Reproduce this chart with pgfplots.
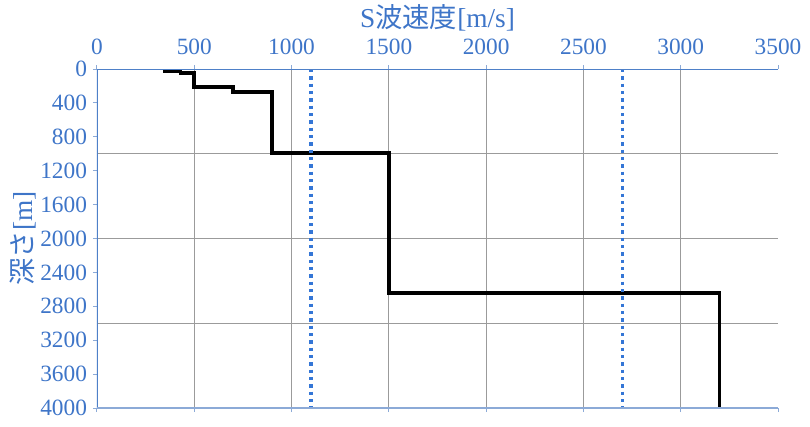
\documentclass[border=0pt]{standalone}
\usepackage{fontspec}
\setmainfont{Liberation Serif}
\newfontfamily\cjk{Noto Sans CJK JP}
\usepackage{pgfplots}
\pgfplotsset{compat=1.18}

\definecolor{txtblue}{RGB}{62,117,200}
\definecolor{axblue}{RGB}{78,128,200}
\definecolor{lightblue}{RGB}{140,170,215}
\definecolor{dotblue}{RGB}{52,118,214}
\definecolor{gridgray}{RGB}{155,155,155}

\begin{document}
\begin{tikzpicture}
% 1px = 0.75pt; plot box 681x339 px at (97,69) in a 810x426 picture
\useasboundingbox (-72.75pt,-13.5pt) rectangle (534.75pt,306pt);
\begin{axis}[
    scale only axis,
    width=510.75pt,
    height=254.25pt,
    xmin=0, xmax=3500,
    ymin=0, ymax=4000,
    y dir=reverse,
    xtick={0,500,...,3500},
    ytick={0,400,...,4000},
    xtick pos=both,
    ytick pos=left,
    xticklabel pos=right,
    tick align=outside,
    major tick length=3pt,
    every tick/.style={color=lightblue, line width=0.75pt},
    extra x ticks={500,1000,...,3000},
    extra x tick labels={},
    extra x tick style={grid=major, major tick length=0pt},
    extra y ticks={1000,2000,3000},
    extra y tick labels={},
    extra y tick style={grid=major, major tick length=0pt},
    major grid style={gridgray, line width=0.75pt},
    axis line style={draw=none},
    /pgf/number format/assume math mode=true,
    /pgf/number format/1000 sep={},
    ticklabel style={font=\fontsize{17.5}{20}\selectfont, text=txtblue},
    xticklabel style={yshift=4pt},
    yticklabel style={xshift=-1pt},
    every axis x label/.style={at={(axis description cs:0.5,1.150)}, anchor=center},
    every axis y label/.style={at={(axis description cs:-0.1087,0.5)}, rotate=90, anchor=center},
    label style={font=\fontsize{20.5}{24}\selectfont, text=txtblue},
    xlabel={S{\cjk 波速度}[m/s]},
    ylabel={{\cjk 深さ}[m]},
]
\addplot[black, line width=2.7pt, line join=miter] coordinates {
    (350,0) (350,30) (430,30) (430,50) (500,50) (500,210)
    (700,210) (700,270) (900,270) (900,990) (1500,990)
    (1500,2645) (3200,2645) (3200,4000)
};
\addplot[dotblue, line width=2.6pt, dash pattern=on 2.6pt off 2.9pt] coordinates {(1100,0) (1100,4000)};
\addplot[dotblue, line width=2.6pt, dash pattern=on 2.6pt off 2.9pt] coordinates {(2700,0) (2700,4000)};
\draw[axblue, line width=0.9pt] (axis description cs:0,1) -- (axis description cs:1,1);
\draw[axblue, line width=0.9pt] (axis description cs:0,0) -- (axis description cs:0,1);
\draw[lightblue, line width=0.9pt] (axis description cs:0,0) -- (axis description cs:1,0);
\end{axis}
\end{tikzpicture}
\end{document}
